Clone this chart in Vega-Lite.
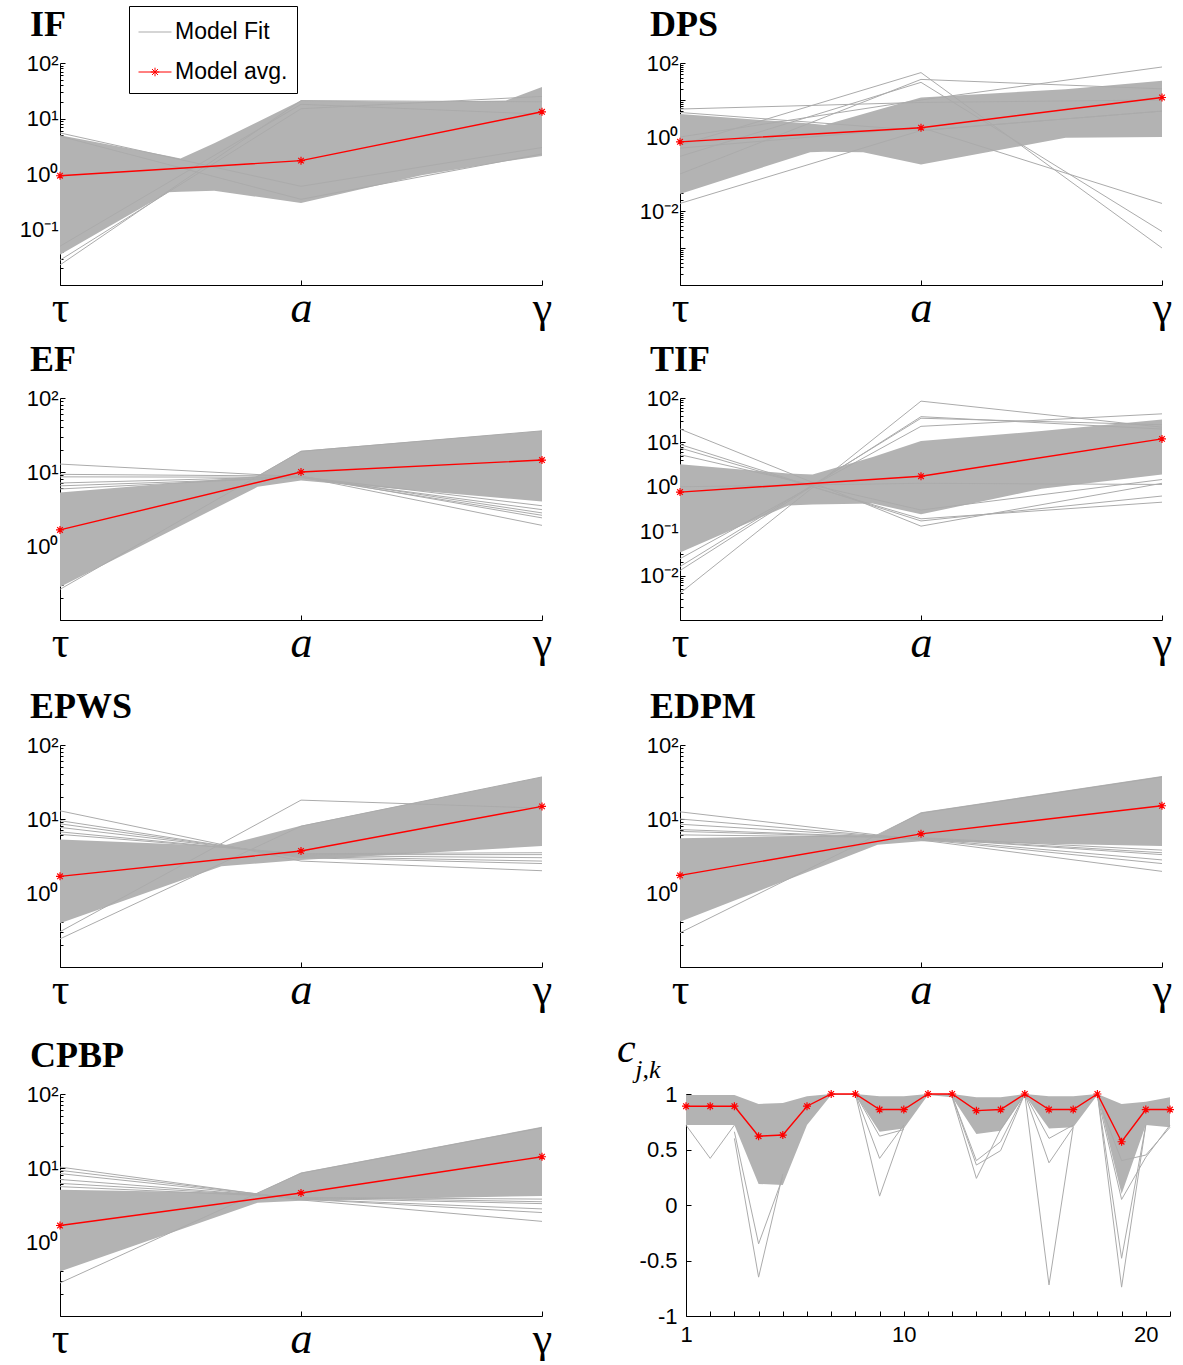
{
  "$schema": "https://vega.github.io/schema/vega-lite/v6.json",
  "background": "white",
  "padding": {"left": 5, "top": 5, "right": 5, "bottom": 0},
  "spacing": 24,
  "vconcat": [
    {
      "spacing": 12,
      "vconcat": [
        {
          "bounds": "flush",
          "spacing": 138,
          "hconcat": [
            {
              "width": 482, "height": 222,
              "title": {"text": "IF", "dx": -30},
              "layer": [
                {"data": {"name": "band"}, "transform": [{"filter": "datum.p === 'IF'"}], "mark": {"type": "area", "color": "#b3b3b3"},
                 "encoding": {
                   "x": {"field": "x", "type": "quantitative", "scale": {"domain": [0, 2], "nice": false, "zero": false},
                         "axis": {"values": [0, 1, 2], "labelExpr": "datum.value === 0 ? 'τ' : datum.value === 1 ? 'a' : 'γ'", "labelFont": "Liberation Serif", "labelFontSize": 44, "labelFontStyle": {"condition": {"test": "datum.value === 1", "value": "italic"}, "value": "normal"}, "labelBaseline": "alphabetic", "labelPadding": 41, "tickSize": -5, "labelFlush": false, "labelOverlap": false}},
                   "y": {"field": "y", "type": "quantitative", "scale": {"type": "log", "domain": [0.01, 100], "nice": false},
                         "axis": {"values": [0.01,0.02,0.03,0.04,0.05,0.06,0.07,0.08,0.09,0.1,0.2,0.3,0.4,0.5,0.6,0.7,0.8,0.9,1,2,3,4,5,6,7,8,9,10,20,30,40,50,60,70,80,90,100],
                                  "labelExpr": "datum.value === 100 ? '10²' : datum.value === 10 ? '10¹' : datum.value === 1 ? '10⁰' : datum.value === 0.1 ? '10⁻¹' : ''",
                                  "tickSize": {"condition": {"test": "abs(log(datum.value)/LN10 - round(log(datum.value)/LN10)) < 0.000001", "value": -5}, "value": -3},
                                  "tickCount": 100, "labelPadding": 7, "labelOverlap": false, "minExtent": 55, "maxExtent": 55}},
                   "y2": {"field": "hi"}
                 }},
                {"data": {"name": "fits"}, "transform": [{"filter": "datum.p === 'IF'"}], "mark": {"type": "line", "strokeWidth": 1},
                 "encoding": {"x": {"field": "x", "type": "quantitative"}, "y": {"field": "y", "type": "quantitative"}, "detail": {"field": "id"},
                   "color": {"datum": "Model Fit", "type": "nominal",
                     "scale": {"domain": ["Model Fit", "Model avg."], "range": ["#ababab", "#ff0000"]},
                     "legend": {"title": null, "orient": "none", "legendX": 69, "legendY": -57, "strokeColor": "black", "fillColor": "white", "padding": 9,
                       "labelFont": "Liberation Sans", "labelFontSize": 23, "labelColor": "black", "labelOffset": 3, "rowPadding": 11,
                       "symbolType": "stroke", "symbolSize": 1089, "symbolStrokeWidth": 1,
                       "encode": {"symbols": {"update": {"shape": [{"test": "datum.value === 'Model avg.'", "value": "M-1,0H1M-0.26,0H0.26M0,-0.26V0.26M-0.18,-0.18L0.18,0.18M-0.18,0.18L0.18,-0.18"}, {"value": "stroke"}]}}}}}}},
                {"data": {"name": "avg"}, "transform": [{"filter": "datum.p === 'IF'"}], "mark": {"type": "line", "strokeWidth": 1.4},
                 "encoding": {"x": {"field": "x", "type": "quantitative"}, "y": {"field": "y", "type": "quantitative"}, "color": {"datum": "Model avg.", "type": "nominal"}}},
                {"data": {"name": "avg"}, "transform": [{"filter": "datum.p === 'IF'"}], "mark": {"type": "point", "shape": "M-1,0H1M0,-1V1M-0.7,-0.7L0.7,0.7M-0.7,0.7L0.7,-0.7", "size": 64, "filled": false, "stroke": "red", "strokeWidth": 1.2, "opacity": 1},
                 "encoding": {"x": {"field": "x", "type": "quantitative"}, "y": {"field": "y", "type": "quantitative"}}}
              ]
            },
            {
              "width": 482, "height": 222,
              "title": {"text": "DPS", "dx": -30},
              "layer": [
                {"data": {"name": "band"}, "transform": [{"filter": "datum.p === 'DPS'"}], "mark": {"type": "area", "color": "#b3b3b3"},
                 "encoding": {
                   "x": {"field": "x", "type": "quantitative", "scale": {"domain": [0, 2], "nice": false, "zero": false},
                         "axis": {"values": [0, 1, 2], "labelExpr": "datum.value === 0 ? 'τ' : datum.value === 1 ? 'a' : 'γ'", "labelFont": "Liberation Serif", "labelFontSize": 44, "labelFontStyle": {"condition": {"test": "datum.value === 1", "value": "italic"}, "value": "normal"}, "labelBaseline": "alphabetic", "labelPadding": 41, "tickSize": -5, "labelFlush": false, "labelOverlap": false}},
                   "y": {"field": "y", "type": "quantitative", "scale": {"type": "log", "domain": [0.0001, 100], "nice": false},
                         "axis": {"values": [0.0001,0.0002,0.0003,0.0004,0.0005,0.0006,0.0007,0.0008,0.0009,0.001,0.002,0.003,0.004,0.005,0.006,0.007,0.008,0.009,0.01,0.02,0.03,0.04,0.05,0.06,0.07,0.08,0.09,0.1,0.2,0.3,0.4,0.5,0.6,0.7,0.8,0.9,1,2,3,4,5,6,7,8,9,10,20,30,40,50,60,70,80,90,100],
                                  "labelExpr": "datum.value === 100 ? '10²' : datum.value === 1 ? '10⁰' : datum.value === 0.01 ? '10⁻²' : ''",
                                  "tickSize": {"condition": {"test": "abs(log(datum.value)/LN10 - round(log(datum.value)/LN10)) < 0.000001", "value": -5}, "value": -3},
                                  "tickCount": 100, "labelPadding": 7, "labelOverlap": false}},
                   "y2": {"field": "hi"}
                 }},
                {"data": {"name": "fits"}, "transform": [{"filter": "datum.p === 'DPS'"}], "mark": {"type": "line", "strokeWidth": 1, "color": "#ababab"},
                 "encoding": {"x": {"field": "x", "type": "quantitative"}, "y": {"field": "y", "type": "quantitative"}, "detail": {"field": "id"}}},
                {"data": {"name": "avg"}, "transform": [{"filter": "datum.p === 'DPS'"}], "mark": {"type": "line", "strokeWidth": 1.4, "color": "red"},
                 "encoding": {"x": {"field": "x", "type": "quantitative"}, "y": {"field": "y", "type": "quantitative"}}},
                {"data": {"name": "avg"}, "transform": [{"filter": "datum.p === 'DPS'"}], "mark": {"type": "point", "shape": "M-1,0H1M0,-1V1M-0.7,-0.7L0.7,0.7M-0.7,0.7L0.7,-0.7", "size": 64, "filled": false, "stroke": "red", "strokeWidth": 1.2, "opacity": 1},
                 "encoding": {"x": {"field": "x", "type": "quantitative"}, "y": {"field": "y", "type": "quantitative"}}}
              ]
            }
          ]
        },
        {
          "bounds": "flush",
          "spacing": 138,
          "hconcat": [
            {
              "width": 482, "height": 222,
              "title": {"text": "EF", "dx": -30},
              "layer": [
                {"data": {"name": "band"}, "transform": [{"filter": "datum.p === 'EF'"}], "mark": {"type": "area", "color": "#b3b3b3"},
                 "encoding": {
                   "x": {"field": "x", "type": "quantitative", "scale": {"domain": [0, 2], "nice": false, "zero": false},
                         "axis": {"values": [0, 1, 2], "labelExpr": "datum.value === 0 ? 'τ' : datum.value === 1 ? 'a' : 'γ'", "labelFont": "Liberation Serif", "labelFontSize": 44, "labelFontStyle": {"condition": {"test": "datum.value === 1", "value": "italic"}, "value": "normal"}, "labelBaseline": "alphabetic", "labelPadding": 41, "tickSize": -5, "labelFlush": false, "labelOverlap": false}},
                   "y": {"field": "y", "type": "quantitative", "scale": {"type": "log", "domain": [0.1, 100], "nice": false},
                         "axis": {"values": [0.1,0.2,0.3,0.4,0.5,0.6,0.7,0.8,0.9,1,2,3,4,5,6,7,8,9,10,20,30,40,50,60,70,80,90,100],
                                  "labelExpr": "datum.value === 100 ? '10²' : datum.value === 10 ? '10¹' : datum.value === 1 ? '10⁰' : ''",
                                  "tickSize": {"condition": {"test": "abs(log(datum.value)/LN10 - round(log(datum.value)/LN10)) < 0.000001", "value": -5}, "value": -3},
                                  "tickCount": 100, "labelPadding": 7, "labelOverlap": false, "minExtent": 55, "maxExtent": 55}},
                   "y2": {"field": "hi"}
                 }},
                {"data": {"name": "fits"}, "transform": [{"filter": "datum.p === 'EF'"}], "mark": {"type": "line", "strokeWidth": 1, "color": "#ababab"},
                 "encoding": {"x": {"field": "x", "type": "quantitative"}, "y": {"field": "y", "type": "quantitative"}, "detail": {"field": "id"}}},
                {"data": {"name": "avg"}, "transform": [{"filter": "datum.p === 'EF'"}], "mark": {"type": "line", "strokeWidth": 1.4, "color": "red"},
                 "encoding": {"x": {"field": "x", "type": "quantitative"}, "y": {"field": "y", "type": "quantitative"}}},
                {"data": {"name": "avg"}, "transform": [{"filter": "datum.p === 'EF'"}], "mark": {"type": "point", "shape": "M-1,0H1M0,-1V1M-0.7,-0.7L0.7,0.7M-0.7,0.7L0.7,-0.7", "size": 64, "filled": false, "stroke": "red", "strokeWidth": 1.2, "opacity": 1},
                 "encoding": {"x": {"field": "x", "type": "quantitative"}, "y": {"field": "y", "type": "quantitative"}}}
              ]
            },
            {
              "width": 482, "height": 222,
              "title": {"text": "TIF", "dx": -30},
              "layer": [
                {"data": {"name": "band"}, "transform": [{"filter": "datum.p === 'TIF'"}], "mark": {"type": "area", "color": "#b3b3b3"},
                 "encoding": {
                   "x": {"field": "x", "type": "quantitative", "scale": {"domain": [0, 2], "nice": false, "zero": false},
                         "axis": {"values": [0, 1, 2], "labelExpr": "datum.value === 0 ? 'τ' : datum.value === 1 ? 'a' : 'γ'", "labelFont": "Liberation Serif", "labelFontSize": 44, "labelFontStyle": {"condition": {"test": "datum.value === 1", "value": "italic"}, "value": "normal"}, "labelBaseline": "alphabetic", "labelPadding": 41, "tickSize": -5, "labelFlush": false, "labelOverlap": false}},
                   "y": {"field": "y", "type": "quantitative", "scale": {"type": "log", "domain": [0.001, 100], "nice": false},
                         "axis": {"values": [0.001,0.002,0.003,0.004,0.005,0.006,0.007,0.008,0.009,0.01,0.02,0.03,0.04,0.05,0.06,0.07,0.08,0.09,0.1,0.2,0.3,0.4,0.5,0.6,0.7,0.8,0.9,1,2,3,4,5,6,7,8,9,10,20,30,40,50,60,70,80,90,100],
                                  "labelExpr": "datum.value === 100 ? '10²' : datum.value === 10 ? '10¹' : datum.value === 1 ? '10⁰' : datum.value === 0.1 ? '10⁻¹' : datum.value === 0.01 ? '10⁻²' : ''",
                                  "tickSize": {"condition": {"test": "abs(log(datum.value)/LN10 - round(log(datum.value)/LN10)) < 0.000001", "value": -5}, "value": -3},
                                  "tickCount": 100, "labelPadding": 7, "labelOverlap": false}},
                   "y2": {"field": "hi"}
                 }},
                {"data": {"name": "fits"}, "transform": [{"filter": "datum.p === 'TIF'"}], "mark": {"type": "line", "strokeWidth": 1, "color": "#ababab"},
                 "encoding": {"x": {"field": "x", "type": "quantitative"}, "y": {"field": "y", "type": "quantitative"}, "detail": {"field": "id"}}},
                {"data": {"name": "avg"}, "transform": [{"filter": "datum.p === 'TIF'"}], "mark": {"type": "line", "strokeWidth": 1.4, "color": "red"},
                 "encoding": {"x": {"field": "x", "type": "quantitative"}, "y": {"field": "y", "type": "quantitative"}}},
                {"data": {"name": "avg"}, "transform": [{"filter": "datum.p === 'TIF'"}], "mark": {"type": "point", "shape": "M-1,0H1M0,-1V1M-0.7,-0.7L0.7,0.7M-0.7,0.7L0.7,-0.7", "size": 64, "filled": false, "stroke": "red", "strokeWidth": 1.2, "opacity": 1},
                 "encoding": {"x": {"field": "x", "type": "quantitative"}, "y": {"field": "y", "type": "quantitative"}}}
              ]
            }
          ]
        }
      ]
    },
    {
      "spacing": 16,
      "vconcat": [
        {
          "bounds": "flush",
          "spacing": 138,
          "hconcat": [
            {
              "width": 482, "height": 222,
              "title": {"text": "EPWS", "dx": -30},
              "layer": [
                {"data": {"name": "band"}, "transform": [{"filter": "datum.p === 'EPWS'"}], "mark": {"type": "area", "color": "#b3b3b3"},
                 "encoding": {
                   "x": {"field": "x", "type": "quantitative", "scale": {"domain": [0, 2], "nice": false, "zero": false},
                         "axis": {"values": [0, 1, 2], "labelExpr": "datum.value === 0 ? 'τ' : datum.value === 1 ? 'a' : 'γ'", "labelFont": "Liberation Serif", "labelFontSize": 44, "labelFontStyle": {"condition": {"test": "datum.value === 1", "value": "italic"}, "value": "normal"}, "labelBaseline": "alphabetic", "labelPadding": 41, "tickSize": -5, "labelFlush": false, "labelOverlap": false}},
                   "y": {"field": "y", "type": "quantitative", "scale": {"type": "log", "domain": [0.1, 100], "nice": false},
                         "axis": {"values": [0.1,0.2,0.3,0.4,0.5,0.6,0.7,0.8,0.9,1,2,3,4,5,6,7,8,9,10,20,30,40,50,60,70,80,90,100],
                                  "labelExpr": "datum.value === 100 ? '10²' : datum.value === 10 ? '10¹' : datum.value === 1 ? '10⁰' : ''",
                                  "tickSize": {"condition": {"test": "abs(log(datum.value)/LN10 - round(log(datum.value)/LN10)) < 0.000001", "value": -5}, "value": -3},
                                  "tickCount": 100, "labelPadding": 7, "labelOverlap": false, "minExtent": 55, "maxExtent": 55}},
                   "y2": {"field": "hi"}
                 }},
                {"data": {"name": "fits"}, "transform": [{"filter": "datum.p === 'EPWS'"}], "mark": {"type": "line", "strokeWidth": 1, "color": "#ababab"},
                 "encoding": {"x": {"field": "x", "type": "quantitative"}, "y": {"field": "y", "type": "quantitative"}, "detail": {"field": "id"}}},
                {"data": {"name": "avg"}, "transform": [{"filter": "datum.p === 'EPWS'"}], "mark": {"type": "line", "strokeWidth": 1.4, "color": "red"},
                 "encoding": {"x": {"field": "x", "type": "quantitative"}, "y": {"field": "y", "type": "quantitative"}}},
                {"data": {"name": "avg"}, "transform": [{"filter": "datum.p === 'EPWS'"}], "mark": {"type": "point", "shape": "M-1,0H1M0,-1V1M-0.7,-0.7L0.7,0.7M-0.7,0.7L0.7,-0.7", "size": 64, "filled": false, "stroke": "red", "strokeWidth": 1.2, "opacity": 1},
                 "encoding": {"x": {"field": "x", "type": "quantitative"}, "y": {"field": "y", "type": "quantitative"}}}
              ]
            },
            {
              "width": 482, "height": 222,
              "title": {"text": "EDPM", "dx": -30},
              "layer": [
                {"data": {"name": "band"}, "transform": [{"filter": "datum.p === 'EDPM'"}], "mark": {"type": "area", "color": "#b3b3b3"},
                 "encoding": {
                   "x": {"field": "x", "type": "quantitative", "scale": {"domain": [0, 2], "nice": false, "zero": false},
                         "axis": {"values": [0, 1, 2], "labelExpr": "datum.value === 0 ? 'τ' : datum.value === 1 ? 'a' : 'γ'", "labelFont": "Liberation Serif", "labelFontSize": 44, "labelFontStyle": {"condition": {"test": "datum.value === 1", "value": "italic"}, "value": "normal"}, "labelBaseline": "alphabetic", "labelPadding": 41, "tickSize": -5, "labelFlush": false, "labelOverlap": false}},
                   "y": {"field": "y", "type": "quantitative", "scale": {"type": "log", "domain": [0.1, 100], "nice": false},
                         "axis": {"values": [0.1,0.2,0.3,0.4,0.5,0.6,0.7,0.8,0.9,1,2,3,4,5,6,7,8,9,10,20,30,40,50,60,70,80,90,100],
                                  "labelExpr": "datum.value === 100 ? '10²' : datum.value === 10 ? '10¹' : datum.value === 1 ? '10⁰' : ''",
                                  "tickSize": {"condition": {"test": "abs(log(datum.value)/LN10 - round(log(datum.value)/LN10)) < 0.000001", "value": -5}, "value": -3},
                                  "tickCount": 100, "labelPadding": 7, "labelOverlap": false}},
                   "y2": {"field": "hi"}
                 }},
                {"data": {"name": "fits"}, "transform": [{"filter": "datum.p === 'EDPM'"}], "mark": {"type": "line", "strokeWidth": 1, "color": "#ababab"},
                 "encoding": {"x": {"field": "x", "type": "quantitative"}, "y": {"field": "y", "type": "quantitative"}, "detail": {"field": "id"}}},
                {"data": {"name": "avg"}, "transform": [{"filter": "datum.p === 'EDPM'"}], "mark": {"type": "line", "strokeWidth": 1.4, "color": "red"},
                 "encoding": {"x": {"field": "x", "type": "quantitative"}, "y": {"field": "y", "type": "quantitative"}}},
                {"data": {"name": "avg"}, "transform": [{"filter": "datum.p === 'EDPM'"}], "mark": {"type": "point", "shape": "M-1,0H1M0,-1V1M-0.7,-0.7L0.7,0.7M-0.7,0.7L0.7,-0.7", "size": 64, "filled": false, "stroke": "red", "strokeWidth": 1.2, "opacity": 1},
                 "encoding": {"x": {"field": "x", "type": "quantitative"}, "y": {"field": "y", "type": "quantitative"}}}
              ]
            }
          ]
        },
        {
          "bounds": "flush",
          "spacing": 144,
          "hconcat": [
            {
              "width": 482, "height": 222,
              "title": {"text": "CPBP", "dx": -30},
              "layer": [
                {"data": {"name": "band"}, "transform": [{"filter": "datum.p === 'CPBP'"}], "mark": {"type": "area", "color": "#b3b3b3"},
                 "encoding": {
                   "x": {"field": "x", "type": "quantitative", "scale": {"domain": [0, 2], "nice": false, "zero": false},
                         "axis": {"values": [0, 1, 2], "labelExpr": "datum.value === 0 ? 'τ' : datum.value === 1 ? 'a' : 'γ'", "labelFont": "Liberation Serif", "labelFontSize": 44, "labelFontStyle": {"condition": {"test": "datum.value === 1", "value": "italic"}, "value": "normal"}, "labelBaseline": "alphabetic", "labelPadding": 41, "tickSize": -5, "labelFlush": false, "labelOverlap": false}},
                   "y": {"field": "y", "type": "quantitative", "scale": {"type": "log", "domain": [0.1, 100], "nice": false},
                         "axis": {"values": [0.1,0.2,0.3,0.4,0.5,0.6,0.7,0.8,0.9,1,2,3,4,5,6,7,8,9,10,20,30,40,50,60,70,80,90,100],
                                  "labelExpr": "datum.value === 100 ? '10²' : datum.value === 10 ? '10¹' : datum.value === 1 ? '10⁰' : ''",
                                  "tickSize": {"condition": {"test": "abs(log(datum.value)/LN10 - round(log(datum.value)/LN10)) < 0.000001", "value": -5}, "value": -3},
                                  "tickCount": 100, "labelPadding": 7, "labelOverlap": false, "minExtent": 55, "maxExtent": 55}},
                   "y2": {"field": "hi"}
                 }},
                {"data": {"name": "fits"}, "transform": [{"filter": "datum.p === 'CPBP'"}], "mark": {"type": "line", "strokeWidth": 1, "color": "#ababab"},
                 "encoding": {"x": {"field": "x", "type": "quantitative"}, "y": {"field": "y", "type": "quantitative"}, "detail": {"field": "id"}}},
                {"data": {"name": "avg"}, "transform": [{"filter": "datum.p === 'CPBP'"}], "mark": {"type": "line", "strokeWidth": 1.4, "color": "red"},
                 "encoding": {"x": {"field": "x", "type": "quantitative"}, "y": {"field": "y", "type": "quantitative"}}},
                {"data": {"name": "avg"}, "transform": [{"filter": "datum.p === 'CPBP'"}], "mark": {"type": "point", "shape": "M-1,0H1M0,-1V1M-0.7,-0.7L0.7,0.7M-0.7,0.7L0.7,-0.7", "size": 64, "filled": false, "stroke": "red", "strokeWidth": 1.2, "opacity": 1},
                 "encoding": {"x": {"field": "x", "type": "quantitative"}, "y": {"field": "y", "type": "quantitative"}}}
              ]
            },
            {
              "width": 484, "height": 222,
              "title": {"text": "c", "subtitle": "\u200d\u00a0\u00a0\u2009j,k", "font": "Liberation Serif", "fontStyle": "italic", "fontWeight": "normal", "fontSize": 42,
                        "subtitleFont": "Liberation Serif", "subtitleFontStyle": "italic", "subtitleFontSize": 26, "subtitleColor": "black", "subtitlePadding": -14,
                        "dx": -69, "offset": -1},
              "layer": [
                {"data": {"name": "cband"}, "mark": {"type": "area", "color": "#b3b3b3"},
                 "encoding": {
                   "x": {"field": "k", "type": "quantitative", "scale": {"domain": [1, 21], "nice": false, "zero": false},
                         "axis": {"values": [1,2,3,4,5,6,7,8,9,10,11,12,13,14,15,16,17,18,19,20,21], "tickCount": 100,
                                  "labelExpr": "(datum.value === 1 || datum.value === 10 || datum.value === 20) ? '' + datum.value : ''",
                                  "labelFont": "Liberation Sans", "labelFontSize": 22, "labelBaseline": "alphabetic", "labelPadding": 30, "tickSize": -5, "labelFlush": false, "labelOverlap": false}},
                   "y": {"field": "y", "type": "quantitative", "scale": {"domain": [-1, 1], "nice": false, "zero": false},
                         "axis": {"values": [-1, -0.5, 0, 0.5, 1], "tickCount": 100, "labelExpr": "'' + datum.value", "tickSize": -5, "labelPadding": 14, "labelOverlap": false}},
                   "y2": {"field": "hi"}
                 }},
                {"data": {"name": "cfits"}, "mark": {"type": "line", "strokeWidth": 1, "color": "#ababab"},
                 "encoding": {"x": {"field": "k", "type": "quantitative"}, "y": {"field": "y", "type": "quantitative"}, "detail": {"field": "id"}}},
                {"data": {"name": "cavg"}, "mark": {"type": "line", "strokeWidth": 1.4, "color": "red"},
                 "encoding": {"x": {"field": "k", "type": "quantitative"}, "y": {"field": "y", "type": "quantitative"}}},
                {"data": {"name": "cavg"}, "mark": {"type": "point", "shape": "M-1,0H1M0,-1V1M-0.7,-0.7L0.7,0.7M-0.7,0.7L0.7,-0.7", "size": 64, "filled": false, "stroke": "red", "strokeWidth": 1.2, "opacity": 1},
                 "encoding": {"x": {"field": "k", "type": "quantitative"}, "y": {"field": "y", "type": "quantitative"}}}
              ]
            }
          ]
        }
      ]
    }
  ],
  "datasets": {
    "band": [
      {"p": "IF", "x": 0, "y": 0.035, "hi": 5.0},
      {"p": "IF", "x": 0.45, "y": 0.47, "hi": 2.1},
      {"p": "IF", "x": 0.5, "y": 0.48, "hi": 1.9},
      {"p": "IF", "x": 0.64, "y": 0.5, "hi": 3.6},
      {"p": "IF", "x": 1, "y": 0.3, "hi": 21},
      {"p": "IF", "x": 1.5, "y": 0.95, "hi": 20},
      {"p": "IF", "x": 1.85, "y": 1.7, "hi": 21},
      {"p": "IF", "x": 2, "y": 2.1, "hi": 37},
      {"p": "DPS", "x": 0, "y": 0.029, "hi": 4.2},
      {"p": "DPS", "x": 0.54, "y": 0.39, "hi": 2.3},
      {"p": "DPS", "x": 0.6, "y": 0.4, "hi": 2.1},
      {"p": "DPS", "x": 0.76, "y": 0.39, "hi": 4.2},
      {"p": "DPS", "x": 1, "y": 0.18, "hi": 11.7},
      {"p": "DPS", "x": 1.6, "y": 0.95, "hi": 19.6},
      {"p": "DPS", "x": 2, "y": 1.0, "hi": 33},
      {"p": "EF", "x": 0, "y": 0.28, "hi": 5.3},
      {"p": "EF", "x": 0.82, "y": 6.3, "hi": 8.8},
      {"p": "EF", "x": 1, "y": 7.7, "hi": 19.4},
      {"p": "EF", "x": 2, "y": 4.0, "hi": 36},
      {"p": "TIF", "x": 0, "y": 0.033, "hi": 3.2},
      {"p": "TIF", "x": 0.45, "y": 0.38, "hi": 2.0},
      {"p": "TIF", "x": 0.55, "y": 0.4, "hi": 1.9},
      {"p": "TIF", "x": 0.8, "y": 0.42, "hi": 4.7},
      {"p": "TIF", "x": 1, "y": 0.24, "hi": 10.7},
      {"p": "TIF", "x": 1.5, "y": 0.9, "hi": 18},
      {"p": "TIF", "x": 2, "y": 1.9, "hi": 33},
      {"p": "EPWS", "x": 0, "y": 0.39, "hi": 5.3},
      {"p": "EPWS", "x": 0.67, "y": 2.3, "hi": 4.3},
      {"p": "EPWS", "x": 1, "y": 2.8, "hi": 8.1},
      {"p": "EPWS", "x": 2, "y": 4.3, "hi": 37},
      {"p": "EDPM", "x": 0, "y": 0.41, "hi": 5.5},
      {"p": "EDPM", "x": 0.82, "y": 4.5, "hi": 6.1},
      {"p": "EDPM", "x": 1, "y": 5.0, "hi": 12.3},
      {"p": "EDPM", "x": 2, "y": 4.3, "hi": 38},
      {"p": "CPBP", "x": 0, "y": 0.4, "hi": 5.1},
      {"p": "CPBP", "x": 0.82, "y": 3.4, "hi": 4.6},
      {"p": "CPBP", "x": 1, "y": 3.6, "hi": 8.7},
      {"p": "CPBP", "x": 2, "y": 4.2, "hi": 36}
    ],
    "fits": [
      {"p": "IF", "id": 1, "x": 0, "y": 5.5}, {"p": "IF", "id": 1, "x": 1, "y": 0.6}, {"p": "IF", "id": 1, "x": 2, "y": 3},
      {"p": "IF", "id": 2, "x": 0, "y": 0.023}, {"p": "IF", "id": 2, "x": 1, "y": 21}, {"p": "IF", "id": 2, "x": 2, "y": 20},
      {"p": "IF", "id": 3, "x": 0, "y": 0.028}, {"p": "IF", "id": 3, "x": 1, "y": 15}, {"p": "IF", "id": 3, "x": 2, "y": 25},
      {"p": "IF", "id": 4, "x": 0, "y": 4.8}, {"p": "IF", "id": 4, "x": 1, "y": 0.35}, {"p": "IF", "id": 4, "x": 2, "y": 2.3},
      {"p": "IF", "id": 5, "x": 0, "y": 0.05}, {"p": "IF", "id": 5, "x": 1, "y": 18}, {"p": "IF", "id": 5, "x": 2, "y": 12},
      {"p": "DPS", "id": 1, "x": 0, "y": 5.7}, {"p": "DPS", "id": 1, "x": 1, "y": 8.6}, {"p": "DPS", "id": 1, "x": 2, "y": 10},
      {"p": "DPS", "id": 2, "x": 0, "y": 4.6}, {"p": "DPS", "id": 2, "x": 1, "y": 1.5}, {"p": "DPS", "id": 2, "x": 2, "y": 5},
      {"p": "DPS", "id": 3, "x": 0, "y": 0.6}, {"p": "DPS", "id": 3, "x": 1, "y": 55}, {"p": "DPS", "id": 3, "x": 2, "y": 0.001},
      {"p": "DPS", "id": 4, "x": 0, "y": 0.3}, {"p": "DPS", "id": 4, "x": 1, "y": 30}, {"p": "DPS", "id": 4, "x": 2, "y": 0.0028},
      {"p": "DPS", "id": 5, "x": 0, "y": 0.5}, {"p": "DPS", "id": 5, "x": 1, "y": 1.8}, {"p": "DPS", "id": 5, "x": 2, "y": 0.016},
      {"p": "DPS", "id": 6, "x": 0, "y": 1}, {"p": "DPS", "id": 6, "x": 1, "y": 10}, {"p": "DPS", "id": 6, "x": 2, "y": 78},
      {"p": "DPS", "id": 7, "x": 0, "y": 0.016}, {"p": "DPS", "id": 7, "x": 1, "y": 1.5}, {"p": "DPS", "id": 7, "x": 2, "y": 5},
      {"p": "DPS", "id": 8, "x": 0, "y": 0.1}, {"p": "DPS", "id": 8, "x": 1, "y": 36}, {"p": "DPS", "id": 8, "x": 2, "y": 20},
      {"p": "EF", "id": 1, "x": 0, "y": 12.8}, {"p": "EF", "id": 1, "x": 1, "y": 8.6}, {"p": "EF", "id": 1, "x": 2, "y": 1.9},
      {"p": "EF", "id": 2, "x": 0, "y": 9.3}, {"p": "EF", "id": 2, "x": 1, "y": 8.8}, {"p": "EF", "id": 2, "x": 2, "y": 2.4},
      {"p": "EF", "id": 3, "x": 0, "y": 8.6}, {"p": "EF", "id": 3, "x": 1, "y": 8.5}, {"p": "EF", "id": 3, "x": 2, "y": 2.6},
      {"p": "EF", "id": 4, "x": 0, "y": 7.1}, {"p": "EF", "id": 4, "x": 1, "y": 8.7}, {"p": "EF", "id": 4, "x": 2, "y": 2.8},
      {"p": "EF", "id": 5, "x": 0, "y": 6.5}, {"p": "EF", "id": 5, "x": 1, "y": 8.4}, {"p": "EF", "id": 5, "x": 2, "y": 3.1},
      {"p": "EF", "id": 6, "x": 0, "y": 5.9}, {"p": "EF", "id": 6, "x": 1, "y": 8.6}, {"p": "EF", "id": 6, "x": 2, "y": 3.5},
      {"p": "EF", "id": 7, "x": 0, "y": 0.26}, {"p": "EF", "id": 7, "x": 1, "y": 19}, {"p": "EF", "id": 7, "x": 2, "y": 36},
      {"p": "TIF", "id": 1, "x": 0, "y": 20}, {"p": "TIF", "id": 1, "x": 1, "y": 0.13}, {"p": "TIF", "id": 1, "x": 2, "y": 1.2},
      {"p": "TIF", "id": 2, "x": 0, "y": 9}, {"p": "TIF", "id": 2, "x": 1, "y": 0.17}, {"p": "TIF", "id": 2, "x": 2, "y": 0.62},
      {"p": "TIF", "id": 3, "x": 0, "y": 7.5}, {"p": "TIF", "id": 3, "x": 1, "y": 0.19}, {"p": "TIF", "id": 3, "x": 2, "y": 0.45},
      {"p": "TIF", "id": 4, "x": 0, "y": 0.004}, {"p": "TIF", "id": 4, "x": 1, "y": 85}, {"p": "TIF", "id": 4, "x": 2, "y": 22},
      {"p": "TIF", "id": 5, "x": 0, "y": 0.013}, {"p": "TIF", "id": 5, "x": 1, "y": 38}, {"p": "TIF", "id": 5, "x": 2, "y": 20},
      {"p": "TIF", "id": 6, "x": 0, "y": 0.016}, {"p": "TIF", "id": 6, "x": 1, "y": 35}, {"p": "TIF", "id": 6, "x": 2, "y": 25},
      {"p": "TIF", "id": 7, "x": 0, "y": 0.024}, {"p": "TIF", "id": 7, "x": 1, "y": 23}, {"p": "TIF", "id": 7, "x": 2, "y": 44},
      {"p": "TIF", "id": 8, "x": 0, "y": 1}, {"p": "TIF", "id": 8, "x": 1, "y": 1.2}, {"p": "TIF", "id": 8, "x": 2, "y": 1.13},
      {"p": "TIF", "id": 9, "x": 0, "y": 5.3}, {"p": "TIF", "id": 9, "x": 1, "y": 0.3}, {"p": "TIF", "id": 9, "x": 2, "y": 1.46},
      {"p": "EPWS", "id": 1, "x": 0, "y": 12.9}, {"p": "EPWS", "id": 1, "x": 1, "y": 2.7}, {"p": "EPWS", "id": 1, "x": 2, "y": 2.0},
      {"p": "EPWS", "id": 2, "x": 0, "y": 9.5}, {"p": "EPWS", "id": 2, "x": 1, "y": 3.0}, {"p": "EPWS", "id": 2, "x": 2, "y": 2.5},
      {"p": "EPWS", "id": 3, "x": 0, "y": 8.6}, {"p": "EPWS", "id": 3, "x": 1, "y": 3.1}, {"p": "EPWS", "id": 3, "x": 2, "y": 2.7},
      {"p": "EPWS", "id": 4, "x": 0, "y": 7.7}, {"p": "EPWS", "id": 4, "x": 1, "y": 3.2}, {"p": "EPWS", "id": 4, "x": 2, "y": 3.0},
      {"p": "EPWS", "id": 5, "x": 0, "y": 6.7}, {"p": "EPWS", "id": 5, "x": 1, "y": 3.3}, {"p": "EPWS", "id": 5, "x": 2, "y": 3.3},
      {"p": "EPWS", "id": 6, "x": 0, "y": 6.2}, {"p": "EPWS", "id": 6, "x": 1, "y": 3.4}, {"p": "EPWS", "id": 6, "x": 2, "y": 3.5},
      {"p": "EPWS", "id": 7, "x": 0, "y": 0.3}, {"p": "EPWS", "id": 7, "x": 1, "y": 18}, {"p": "EPWS", "id": 7, "x": 2, "y": 14},
      {"p": "EPWS", "id": 8, "x": 0, "y": 0.24}, {"p": "EPWS", "id": 8, "x": 1, "y": 8}, {"p": "EPWS", "id": 8, "x": 2, "y": 37},
      {"p": "EDPM", "id": 1, "x": 0, "y": 12.5}, {"p": "EDPM", "id": 1, "x": 1, "y": 5.2}, {"p": "EDPM", "id": 1, "x": 2, "y": 1.96},
      {"p": "EDPM", "id": 2, "x": 0, "y": 10}, {"p": "EDPM", "id": 2, "x": 1, "y": 5.3}, {"p": "EDPM", "id": 2, "x": 2, "y": 2.5},
      {"p": "EDPM", "id": 3, "x": 0, "y": 8.5}, {"p": "EDPM", "id": 3, "x": 1, "y": 5.4}, {"p": "EDPM", "id": 3, "x": 2, "y": 2.8},
      {"p": "EDPM", "id": 4, "x": 0, "y": 7.2}, {"p": "EDPM", "id": 4, "x": 1, "y": 5.5}, {"p": "EDPM", "id": 4, "x": 2, "y": 3.3},
      {"p": "EDPM", "id": 5, "x": 0, "y": 6.8}, {"p": "EDPM", "id": 5, "x": 1, "y": 5.5}, {"p": "EDPM", "id": 5, "x": 2, "y": 3.5},
      {"p": "EDPM", "id": 6, "x": 0, "y": 6.1}, {"p": "EDPM", "id": 6, "x": 1, "y": 5.6}, {"p": "EDPM", "id": 6, "x": 2, "y": 3.8},
      {"p": "EDPM", "id": 7, "x": 0, "y": 0.29}, {"p": "EDPM", "id": 7, "x": 1, "y": 12}, {"p": "EDPM", "id": 7, "x": 2, "y": 37},
      {"p": "CPBP", "id": 1, "x": 0, "y": 10.3}, {"p": "CPBP", "id": 1, "x": 1, "y": 3.7}, {"p": "CPBP", "id": 1, "x": 2, "y": 1.9},
      {"p": "CPBP", "id": 2, "x": 0, "y": 9.3}, {"p": "CPBP", "id": 2, "x": 1, "y": 3.8}, {"p": "CPBP", "id": 2, "x": 2, "y": 2.5},
      {"p": "CPBP", "id": 3, "x": 0, "y": 8.4}, {"p": "CPBP", "id": 3, "x": 1, "y": 3.8}, {"p": "CPBP", "id": 3, "x": 2, "y": 2.8},
      {"p": "CPBP", "id": 4, "x": 0, "y": 7.0}, {"p": "CPBP", "id": 4, "x": 1, "y": 3.9}, {"p": "CPBP", "id": 4, "x": 2, "y": 3.3},
      {"p": "CPBP", "id": 5, "x": 0, "y": 6.2}, {"p": "CPBP", "id": 5, "x": 1, "y": 4.0}, {"p": "CPBP", "id": 5, "x": 2, "y": 3.5},
      {"p": "CPBP", "id": 6, "x": 0, "y": 5.6}, {"p": "CPBP", "id": 6, "x": 1, "y": 4.0}, {"p": "CPBP", "id": 6, "x": 2, "y": 3.8},
      {"p": "CPBP", "id": 7, "x": 0, "y": 0.28}, {"p": "CPBP", "id": 7, "x": 1, "y": 8.5}, {"p": "CPBP", "id": 7, "x": 2, "y": 35}
    ],
    "avg": [
      {"p": "IF", "x": 0, "y": 0.93}, {"p": "IF", "x": 1, "y": 1.74}, {"p": "IF", "x": 2, "y": 13.2},
      {"p": "DPS", "x": 0, "y": 0.74}, {"p": "DPS", "x": 1, "y": 1.78}, {"p": "DPS", "x": 2, "y": 11.7},
      {"p": "EF", "x": 0, "y": 1.65}, {"p": "EF", "x": 1, "y": 10.0}, {"p": "EF", "x": 2, "y": 14.5},
      {"p": "TIF", "x": 0, "y": 0.76}, {"p": "TIF", "x": 1, "y": 1.73}, {"p": "TIF", "x": 2, "y": 12},
      {"p": "EPWS", "x": 0, "y": 1.68}, {"p": "EPWS", "x": 1, "y": 3.7}, {"p": "EPWS", "x": 2, "y": 14.8},
      {"p": "EDPM", "x": 0, "y": 1.73}, {"p": "EDPM", "x": 1, "y": 6.3}, {"p": "EDPM", "x": 2, "y": 15.1},
      {"p": "CPBP", "x": 0, "y": 1.67}, {"p": "CPBP", "x": 1, "y": 4.6}, {"p": "CPBP", "x": 2, "y": 14.2}
    ],
    "cband": [
      {"k": 1, "y": 0.72, "hi": 0.99}, {"k": 2, "y": 0.72, "hi": 0.99}, {"k": 3, "y": 0.72, "hi": 0.99},
      {"k": 4, "y": 0.19, "hi": 0.91}, {"k": 5, "y": 0.18, "hi": 0.92}, {"k": 6, "y": 0.72, "hi": 0.98},
      {"k": 7, "y": 0.99, "hi": 1.0}, {"k": 8, "y": 0.99, "hi": 1.0}, {"k": 9, "y": 0.66, "hi": 0.98},
      {"k": 10, "y": 0.69, "hi": 0.98}, {"k": 11, "y": 0.99, "hi": 1.0}, {"k": 12, "y": 0.97, "hi": 1.0},
      {"k": 13, "y": 0.64, "hi": 0.97}, {"k": 14, "y": 0.67, "hi": 0.97}, {"k": 15, "y": 0.99, "hi": 1.0},
      {"k": 16, "y": 0.69, "hi": 0.98}, {"k": 17, "y": 0.7, "hi": 0.98}, {"k": 18, "y": 0.99, "hi": 1.0},
      {"k": 19, "y": 0.1, "hi": 0.91}, {"k": 20, "y": 0.72, "hi": 0.93}, {"k": 21, "y": 0.7, "hi": 0.97}
    ],
    "cfits": [
      {"id": 1, "k": 1, "y": 0.72}, {"id": 1, "k": 2, "y": 0.42}, {"id": 1, "k": 3, "y": 0.72},
      {"id": 2, "k": 3, "y": 0.6}, {"id": 2, "k": 4, "y": -0.65}, {"id": 2, "k": 5, "y": 0.28},
      {"id": 3, "k": 3, "y": 0.66}, {"id": 3, "k": 4, "y": -0.35}, {"id": 3, "k": 5, "y": 0.25},
      {"id": 4, "k": 8, "y": 1.0}, {"id": 4, "k": 9, "y": 0.08}, {"id": 4, "k": 10, "y": 0.7},
      {"id": 5, "k": 8, "y": 1.0}, {"id": 5, "k": 9, "y": 0.42}, {"id": 5, "k": 10, "y": 0.72},
      {"id": 6, "k": 8, "y": 1.0}, {"id": 6, "k": 9, "y": 0.62}, {"id": 6, "k": 10, "y": 0.68},
      {"id": 7, "k": 12, "y": 0.97}, {"id": 7, "k": 13, "y": 0.24}, {"id": 7, "k": 14, "y": 0.68}, {"id": 7, "k": 15, "y": 1.0},
      {"id": 8, "k": 12, "y": 0.98}, {"id": 8, "k": 13, "y": 0.4}, {"id": 8, "k": 14, "y": 0.57}, {"id": 8, "k": 15, "y": 1.0},
      {"id": 9, "k": 12, "y": 0.98}, {"id": 9, "k": 13, "y": 0.36}, {"id": 9, "k": 14, "y": 0.49}, {"id": 9, "k": 15, "y": 1.0},
      {"id": 10, "k": 15, "y": 1.0}, {"id": 10, "k": 16, "y": -0.72}, {"id": 10, "k": 17, "y": 0.7},
      {"id": 11, "k": 15, "y": 1.0}, {"id": 11, "k": 16, "y": 0.38}, {"id": 11, "k": 17, "y": 0.7},
      {"id": 12, "k": 15, "y": 1.0}, {"id": 12, "k": 16, "y": 0.6}, {"id": 12, "k": 17, "y": 0.72},
      {"id": 13, "k": 18, "y": 1.0}, {"id": 13, "k": 19, "y": -0.74}, {"id": 13, "k": 20, "y": 0.72},
      {"id": 14, "k": 18, "y": 1.0}, {"id": 14, "k": 19, "y": -0.48}, {"id": 14, "k": 20, "y": 0.72},
      {"id": 15, "k": 18, "y": 0.98}, {"id": 15, "k": 19, "y": 0.05}, {"id": 15, "k": 20, "y": 0.43}, {"id": 15, "k": 21, "y": 0.72},
      {"id": 16, "k": 18, "y": 0.97}, {"id": 16, "k": 19, "y": 0.4}, {"id": 16, "k": 20, "y": 0.45}, {"id": 16, "k": 21, "y": 0.7}
    ],
    "cavg": [
      {"k": 1, "y": 0.89}, {"k": 2, "y": 0.89}, {"k": 3, "y": 0.89}, {"k": 4, "y": 0.62}, {"k": 5, "y": 0.63},
      {"k": 6, "y": 0.89}, {"k": 7, "y": 1.0}, {"k": 8, "y": 1.0}, {"k": 9, "y": 0.86}, {"k": 10, "y": 0.86},
      {"k": 11, "y": 1.0}, {"k": 12, "y": 1.0}, {"k": 13, "y": 0.85}, {"k": 14, "y": 0.86}, {"k": 15, "y": 1.0},
      {"k": 16, "y": 0.86}, {"k": 17, "y": 0.86}, {"k": 18, "y": 1.0}, {"k": 19, "y": 0.57}, {"k": 20, "y": 0.86},
      {"k": 21, "y": 0.86}
    ]
  },
  "config": {
    "view": {"stroke": null},
    "title": {"font": "Liberation Serif", "fontSize": 36, "fontWeight": "bold", "color": "black", "anchor": "start", "frame": "group", "offset": 8, "baseline": "alphabetic"},
    "axis": {"grid": false, "title": null, "domainColor": "black", "domainWidth": 1, "tickColor": "black", "tickWidth": 1, "labelColor": "black", "labelFont": "Liberation Sans", "labelFontSize": 22}
  }
}
